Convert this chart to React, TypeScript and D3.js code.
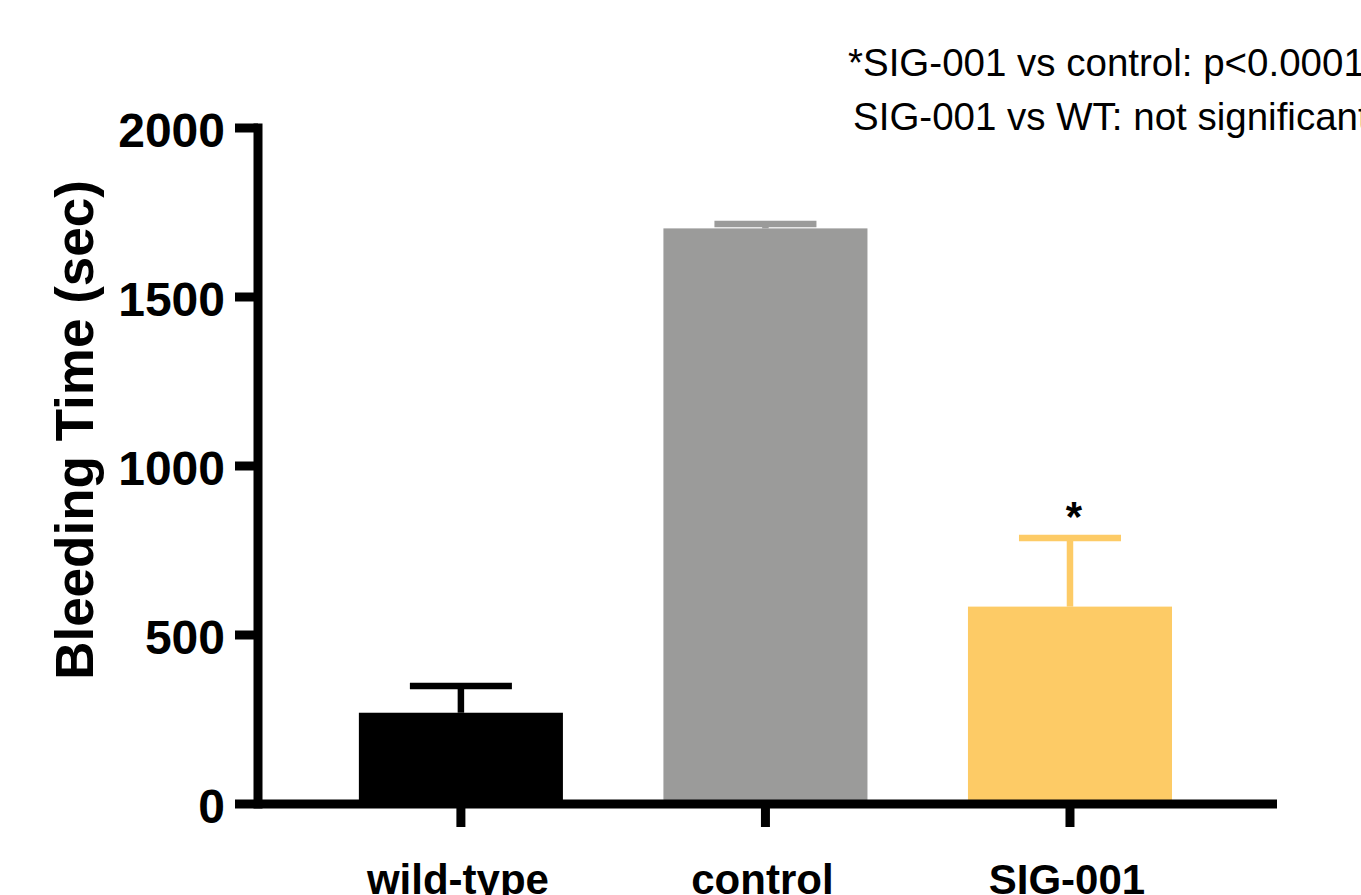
import React from "react";
import * as d3 from "d3";

const categories = ["wild-type", "control", "SIG-001"];
const means = [270, 1703, 584];
const errors = [79, 13, 203];
const colors = ["#000000", "#9b9b9a", "#fdcb66"];
const yTicks = [0, 500, 1000, 1500, 2000];
const annotationLines = ["*SIG-001 vs control: p<0.0001", "SIG-001 vs WT: not significant"];
const starMarks = ["", "", "*"];

const W = 1361;
const H = 895;

export default function App() {
  const x = d3
    .scaleBand<string>()
    .domain(categories)
    .range([258, 1277])
    .paddingInner(0.33)
    .paddingOuter(0.338)
    .align(0.49);
  const y = d3.scaleLinear().domain([0, 2000]).range([804, 128]);
  const bw = x.bandwidth();
  const axisW = 9;
  const bold = "'Liberation Sans', Arial, Helvetica, sans-serif";

  return (
    <svg
      width={W}
      height={H}
      style={{ position: "absolute", left: 0, top: 0, background: "#fff" }}
    >
      {/* annotation */}
      {annotationLines.map((t, i) => (
        <text
          key={t}
          x={i === 0 ? 848 : 853}
          y={i === 0 ? 76 : 130}
          fontFamily={bold}
          fontSize={38.5}
          fill="#000"
        >
          {t}
        </text>
      ))}

      {/* bars */}
      {categories.map((c, i) => {
        const x0 = x(c)!;
        const cx = x0 + bw / 2;
        const top = y(means[i]);
        const upper = y(means[i] + errors[i]);
        return (
          <g key={c}>
            <line x1={cx} x2={cx} y1={top} y2={upper} stroke={colors[i]} strokeWidth={6.5} />
            <line
              x1={cx - bw / 4}
              x2={cx + bw / 4}
              y1={upper}
              y2={upper}
              stroke={colors[i]}
              strokeWidth={6.5}
            />
            <rect x={x0} y={top} width={bw} height={y(0) - top} fill={colors[i]} />
            {starMarks[i] && (
              <text
                x={cx + 4}
                y={upper - 7}
                textAnchor="middle"
                fontFamily={bold}
                fontWeight="bold"
                fontSize={42}
                fill="#000"
              >
                {starMarks[i]}
              </text>
            )}
          </g>
        );
      })}

      {/* y axis */}
      <line
        x1={258}
        x2={258}
        y1={y(2000) - axisW / 2}
        y2={y(0) + axisW / 2}
        stroke="#000"
        strokeWidth={axisW}
      />
      {yTicks.map((t) => (
        <g key={t}>
          <line x1={235} x2={258} y1={y(t)} y2={y(t)} stroke="#000" strokeWidth={axisW} />
          <text
            x={225}
            y={y(t)}
            dy="0.39em"
            textAnchor="end"
            fontFamily={bold}
            fontWeight="bold"
            fontSize={48}
            fill="#000"
          >
            {t}
          </text>
        </g>
      ))}

      {/* x axis */}
      <line x1={258} x2={1277} y1={y(0)} y2={y(0)} stroke="#000" strokeWidth={axisW} />
      {categories.map((c) => {
        const cx = x(c)! + bw / 2;
        return (
          <g key={c}>
            <line x1={cx} x2={cx} y1={y(0)} y2={y(0) + 23} stroke="#000" strokeWidth={axisW} />
            <text
              x={cx - 3}
              y={894}
              textAnchor="middle"
              fontFamily={bold}
              fontWeight="bold"
              fontSize={42}
              fill="#000"
            >
              {c}
            </text>
          </g>
        );
      })}

      {/* y label */}
      <text
        transform="translate(93,430) rotate(-90)"
        textAnchor="middle"
        fontFamily={bold}
        fontWeight="bold"
        fontSize={53}
        fill="#000"
      >
        Bleeding Time (sec)
      </text>
    </svg>
  );
}
